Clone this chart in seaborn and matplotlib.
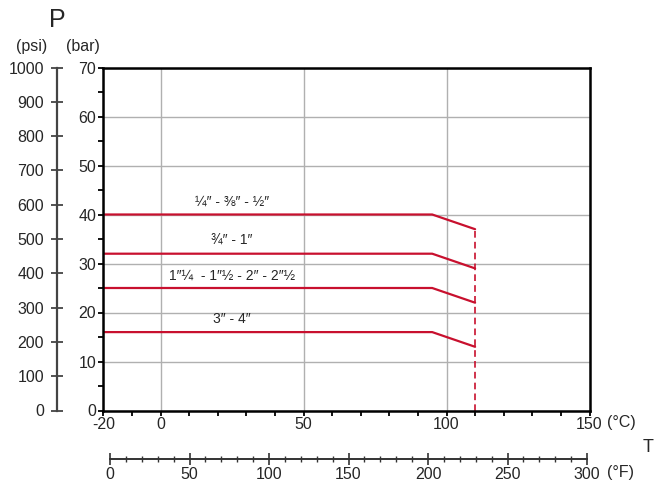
import numpy as np
import pandas as pd
import matplotlib
matplotlib.use("Agg")
import matplotlib.pyplot as plt
import seaborn as sns

# ── data ────────────────────────────────────────────────
size_labels = ["¼″ - ⅜″ - ½″", "¾″ - 1″", "1″¼  - 1″½ - 2″ - 2″½", "3″ - 4″"]
p_flat = [40, 32, 25, 16]          # bar, constant part
p_end = [37, 29, 22, 13]           # bar, at max temperature
t_min, t_knee, t_max = -20, 95, 110
label_t = 25                       # °C position of size labels

c_ticks_major = [-20, 0, 50, 100, 150]
c_ticks_minor = list(range(-20, 151, 10))
bar_ticks_major = list(range(0, 71, 10))
bar_ticks_minor = list(range(0, 71, 5))
psi_ticks = list(range(0, 1001, 100))
f_ticks_major = list(range(0, 301, 50))
f_ticks_minor = list(range(0, 301, 10))

RED = "#c8102e"
FS = 11.5

sns.set_style("white")
plt.rcParams["font.family"] = ["Liberation Sans", "DejaVu Sans"]
plt.rcParams["font.size"] = FS
plt.rcParams["axes.unicode_minus"] = False

rows = []
for lab, p0, p1 in zip(size_labels, p_flat, p_end):
    for t, p in zip([t_min, t_knee, t_max], [p0, p0, p1]):
        rows.append({"size": lab, "T": t, "P": p})
df = pd.DataFrame(rows)

W, H = 659, 484
fig = plt.figure(figsize=(W / 100, H / 100), dpi=100)

left, right = 103.3 / W, 589.5 / W
bottom, top = 1 - 410.5 / H, 1 - 67.5 / H
ax = fig.add_axes([left, bottom, right - left, top - bottom])

# main chart
sns.lineplot(data=df, x="T", y="P", units="size", estimator=None, sort=False,
             color=RED, lw=1.6, ax=ax, legend=False)
ax.plot([t_max, t_max], [0, max(p_end)], color=RED, lw=1.2, ls=(0, (4, 2.5)))

for lab, p0 in zip(size_labels, p_flat):
    ax.text(label_t, p0 + 2.6, lab, ha="center", va="center", fontsize=10)

ax.set_xlim(-20, 150)
ax.set_ylim(0, 70)
ax.set_xticks(c_ticks_major)
ax.set_xticks(c_ticks_minor, minor=True)
ax.set_yticks(bar_ticks_major)
ax.set_yticks(bar_ticks_minor, minor=True)
ax.set_xlabel("")
ax.set_ylabel("")
ax.grid(True, which="major", color="#b0b0b0", lw=1.0)
ax.set_axisbelow(True)
for s in ax.spines.values():
    s.set_color("black")
    s.set_linewidth(1.8)
ax.tick_params(axis="both", which="both", direction="out", length=3.5, width=1.3,
               color="black", labelsize=FS, pad=1.5)
ax.tick_params(axis="x", which="both", bottom=True, top=False)
ax.tick_params(axis="y", which="both", left=True, right=False)

# psi axis
ax_psi = fig.add_axes([57.3 / W, bottom, 0.0001, top - bottom])
ax_psi.set_ylim(0, 1000)
ax_psi.set_yticks(psi_ticks)
ax_psi.patch.set_visible(False)
for k in ["top", "right", "bottom"]:
    ax_psi.spines[k].set_visible(False)
ax_psi.spines["left"].set_color("#444444")
ax_psi.spines["left"].set_linewidth(1.6)
ax_psi.set_xticks([])
ax_psi.tick_params(axis="y", left=True, direction="inout", length=8, width=1.3,
                   color="#444444", labelsize=FS, pad=5.5)

# °F axis
yf = 1 - 459.3 / H
ax_f = fig.add_axes([left, yf, right - left, 0.0001])
ax_f.set_xlim(-4.2, 301.5)
ax_f.set_xticks(f_ticks_major)
ax_f.set_xticks(f_ticks_minor, minor=True)
ax_f.patch.set_visible(False)
for k in ["top", "right", "left"]:
    ax_f.spines[k].set_visible(False)
ax_f.spines["bottom"].set_bounds(0, 300)
ax_f.spines["bottom"].set_color("#333333")
ax_f.spines["bottom"].set_linewidth(1.4)
ax_f.set_yticks([])
ax_f.tick_params(axis="x", which="major", bottom=True, direction="inout", length=9,
                 width=1.2, color="#333333", labelsize=FS, pad=1)
ax_f.tick_params(axis="x", which="minor", bottom=True, direction="inout", length=5,
                 width=1.0, color="#333333")

# axis titles
fig.text(57 / W, 1 - 20 / H, "P", ha="center", va="center", fontsize=18)
fig.text(32 / W, 1 - 47 / H, "(psi)", ha="center", va="center", fontsize=FS)
fig.text(83 / W, 1 - 47 / H, "(bar)", ha="center", va="center", fontsize=FS)
fig.text(621 / W, 1 - 423 / H, "(°C)", ha="center", va="center", fontsize=FS)
fig.text(621 / W, 1 - 472 / H, "(°F)", ha="center", va="center", fontsize=FS)
fig.text(648 / W, 1 - 447 / H, "T", ha="center", va="center", fontsize=13)

fig.savefig("out.png", dpi=100)
